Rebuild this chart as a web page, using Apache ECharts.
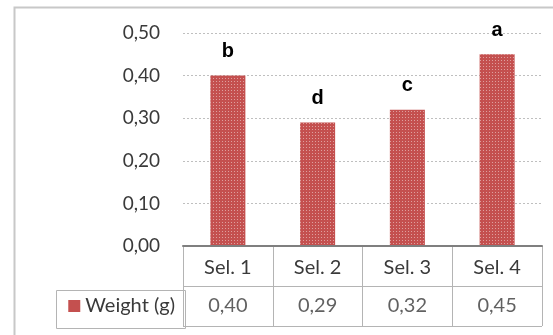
<!DOCTYPE html>
<html>
<head>
<meta charset="utf-8">
<script src="https://cdn.jsdelivr.net/npm/echarts@6/dist/echarts.min.js"></script>
<style>
  html, body { margin: 0; padding: 0; background: #fff; }
  #main { width: 553px; height: 335px; }
</style>
</head>
<body>
<div id="main"></div>
<script>
var categories = ['Sel. 1', 'Sel. 2', 'Sel. 3', 'Sel. 4'];
var weights = [0.40, 0.29, 0.32, 0.45];
var letters = ['b', 'd', 'c', 'a'];
var seriesName = 'Weight (g)';
var yTicks = { min: 0, max: 0.5, interval: 0.1 };

var barColor = '#c4504f';
var tableLine = '#b4b4b4';
var textColor = '#3a3a3a';

function comma(v) {
    return v.toFixed(2).replace('.', ',');
}

var myChart = echarts.init(document.getElementById('main'), null, {renderer: 'canvas'});

// values row of the table, one cell per category
var tableCells = categories.map(function (c, i) {
    return [c, seriesName, weights[i]];
});

option = {
    backgroundColor: '#fff',
    animation: false,
    textStyle: { fontFamily: 'Lato' },
    grid: [
        { left: 183, right: 11, top: 33, bottom: 89 },
        { left: 183, right: 11, top: 246, height: 80 }
    ],
    xAxis: [
        {
            type: 'category',
            gridIndex: 0,
            data: categories,
            axisLine: { show: true, lineStyle: { color: '#7f7f7f', width: 2 } },
            axisTick: { show: false },
            axisLabel: { color: textColor, fontSize: 20, fontFamily: 'Lato', margin: 12 },
            z: 5
        },
        {
            type: 'category',
            gridIndex: 1,
            data: categories,
            axisLine: { show: false },
            axisTick: { show: false },
            axisLabel: { show: false },
            splitLine: { show: true, lineStyle: { color: tableLine, width: 1 } }
        }
    ],
    yAxis: [
        {
            type: 'value',
            gridIndex: 0,
            min: yTicks.min,
            max: yTicks.max,
            interval: yTicks.interval,
            axisLine: { show: false },
            axisTick: { show: false },
            axisLabel: {
                color: textColor, fontSize: 19, fontFamily: 'Lato', margin: 23,
                formatter: function (v) { return comma(v); }
            },
            splitLine: { lineStyle: { color: '#bfbfbf', type: [2, 2], width: 1 } }
        },
        {
            type: 'category',
            gridIndex: 1,
            data: [seriesName, ''],
            axisLine: { show: false },
            axisTick: { show: false },
            splitLine: { show: true, lineStyle: { color: tableLine, width: 1 } },
            axisLabel: {
                margin: 8,
                formatter: function (v) {
                    return v ? '{sq|}{t|' + v + '}' : '';
                },
                rich: {
                    sq: { width: 12, height: 12, backgroundColor: barColor, padding: 0 },
                    t: { color: textColor, fontSize: 20, fontFamily: 'Lato', padding: [0, 0, 0, 5] }
                }
            }
        }
    ],
    series: [
        {
            name: seriesName,
            type: 'bar',
            xAxisIndex: 0,
            yAxisIndex: 0,
            barWidth: 35,
            data: weights,
            itemStyle: {
                color: barColor,
                decal: {
                    symbol: 'rect',
                    symbolSize: 1,
                    dashArrayX: [1, 2],
                    dashArrayY: [1, 2],
                    color: 'rgba(255,255,255,0.45)'
                }
            },
            label: {
                show: true,
                position: 'top',
                distance: 14,
                color: '#000',
                fontSize: 20,
                fontWeight: 'bold',
                fontFamily: 'Liberation Sans',
                formatter: function (p) { return letters[p.dataIndex]; }
            }
        },
        {
            name: 'table',
            type: 'scatter',
            xAxisIndex: 1,
            yAxisIndex: 1,
            symbolSize: 0,
            data: tableCells,
            label: {
                show: true,
                position: 'inside',
                color: textColor,
                fontSize: 20,
                fontFamily: 'Lato',
                formatter: function (p) { return comma(p.data[2]); }
            }
        }
    ],
    graphic: [
        {
            // outer chart frame
            type: 'rect',
            left: 12, top: 5,
            shape: { width: 620, height: 400 },
            style: { fill: 'none', stroke: '#c8c8c8', lineWidth: 2 },
            silent: true
        },
        {
            // legend cell of the data table
            type: 'rect',
            left: 54, top: 288,
            shape: { width: 129, height: 38 },
            style: { fill: 'none', stroke: tableLine, lineWidth: 1 },
            silent: true
        }
    ]
};

myChart.setOption(option);
</script>
</body>
</html>
